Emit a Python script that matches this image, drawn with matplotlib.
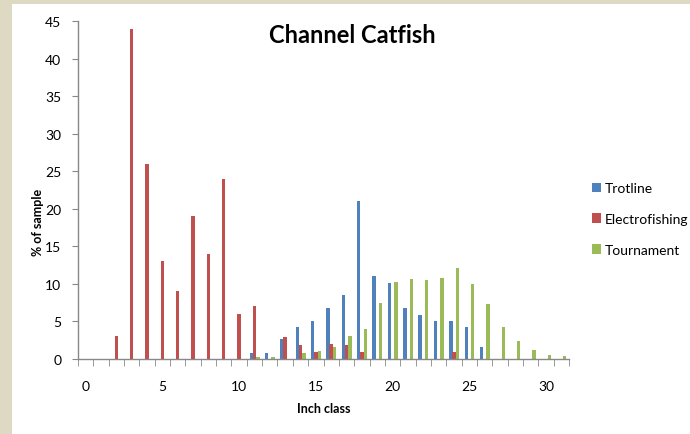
import numpy as np
import matplotlib
matplotlib.use('Agg')
import matplotlib.pyplot as plt
from matplotlib.patches import Rectangle

plt.rcParams['font.family'] = ['Lato', 'DejaVu Sans']

# data
inch_class = np.arange(32)
trotline = [0, 0, 0, 0, 0, 0, 0, 0, 0, 0, 0, 0.75, 0.75, 2.6, 4.25, 5.1,
            6.8, 8.5, 21.1, 11.0, 10.1, 6.8, 5.9, 5.1, 5.1, 4.25, 1.55, 0, 0, 0, 0, 0]
electro = [0, 0, 3, 44, 26, 13, 9, 19, 14, 24, 6, 7, 0, 2.9, 1.9, 0.93,
           1.95, 1.9, 0.93, 0, 0, 0, 0, 0, 0.93, 0, 0, 0, 0, 0, 0, 0]
tournament = [0, 0, 0, 0, 0, 0, 0, 0, 0, 0, 0, 0.27, 0.25, 0, 0.75, 1.06,
              1.6, 3.1, 3.94, 7.43, 10.3, 10.66, 10.49, 10.84, 12.17, 9.96, 7.26, 4.25, 2.39, 1.19, 0.53, 0.4]
series_names = ['Trotline', 'Electrofishing', 'Tournament']
colors = ['#4F81BD', '#C0504D', '#9BBB59']

fig = plt.figure(figsize=(6.9, 4.35), dpi=100)
fig.patch.set_facecolor('#DDD9C3')
fig.patches.append(Rectangle((12 / 690, 0), 1, 1 - 5 / 435, transform=fig.transFigure,
                             facecolor='white', edgecolor='none', zorder=-5))

ax = fig.add_axes([78 / 690, 1 - 360 / 435, (569 - 78) / 690, (360 - 22) / 435])
ax.set_facecolor('none')
ax.set_zorder(2)

w = 0.22
offsets = [-0.2, 0, 0.22]
for vals, off, c, name in zip([trotline, electro, tournament], offsets, colors, series_names):
    ax.bar(inch_class + off, vals, width=w, color=c, label=name, zorder=2)

ax.set_xlim(-0.5, 31.5)
ax.set_ylim(0, 45)
ax.set_yticks(np.arange(0, 46, 5))
ax.set_xticks(np.arange(0, 31, 5))
ax.set_xticks(np.arange(-0.5, 32, 1), minor=True)

for s in ['top', 'right']:
    ax.spines[s].set_visible(False)
for s in ['left', 'bottom']:
    ax.spines[s].set_color('#888888')
    ax.spines[s].set_linewidth(1.0)

ax.tick_params(axis='y', direction='out', length=4, color='#888888', labelsize=10, pad=8)
ax.tick_params(axis='x', which='major', length=0, labelsize=10, pad=15)
ax.tick_params(axis='x', which='minor', direction='out', length=5, color='#888888')

fig.text(352 / 690, 1 - 36 / 435, 'Channel Catfish', fontsize=17, fontweight='bold',
         ha='center', va='center')
fig.text(38 / 690, 1 - 222 / 435, '% of sample', fontsize=9, fontweight='bold',
         rotation=90, ha='center', va='center')
fig.text(324 / 690, 1 - 409 / 435, 'Inch class', fontsize=9, fontweight='bold',
         ha='center', va='center')

leg = fig.legend(loc='center left', bbox_to_anchor=(579 / 690, 1 - 220 / 435), frameon=False,
                 fontsize=10, handlelength=0.7, handleheight=0.7, handletextpad=0.25,
                 labelspacing=1.35)

fig.savefig('out.png', dpi=100)
